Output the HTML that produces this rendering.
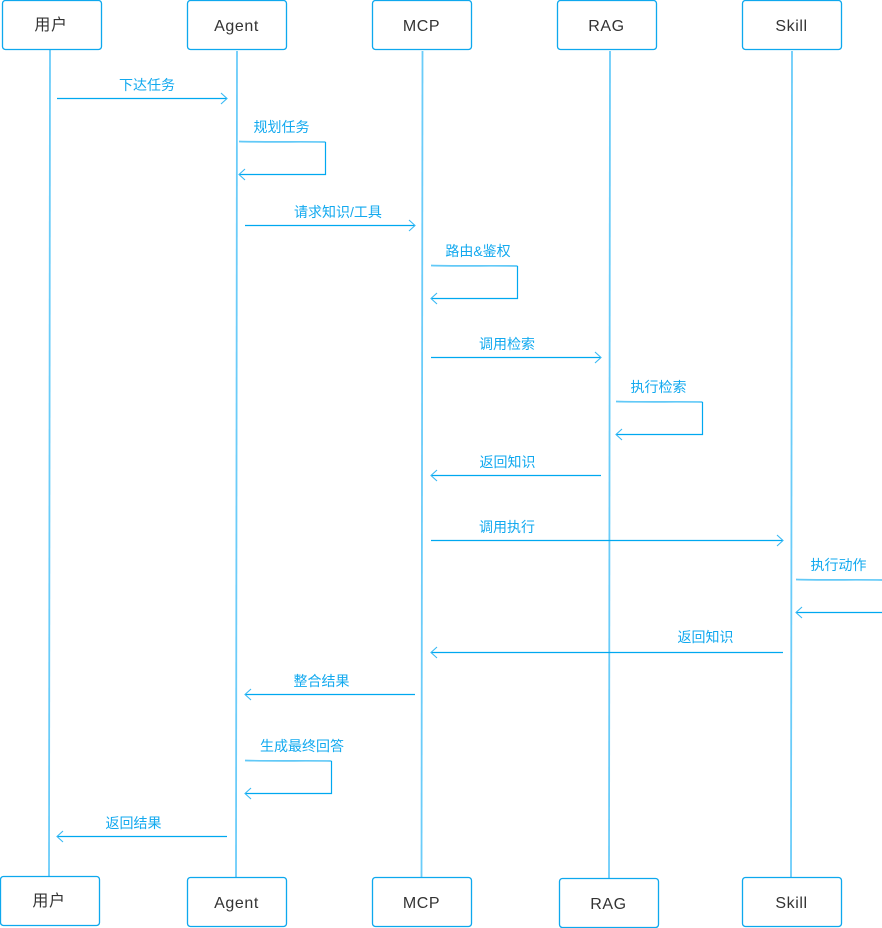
<!DOCTYPE html>
<html><head><meta charset="utf-8"><style>
html,body{margin:0;padding:0;background:#fff;width:882px;height:928px;overflow:hidden}
svg{display:block}
text{font-family:"Liberation Sans","Noto Sans CJK SC",sans-serif}
.n{font-size:16px;fill:#333;text-anchor:middle;letter-spacing:.6px}
.l{font-size:14px;fill:#12a9ef;text-anchor:middle}
.b{fill:#fff;stroke:#0ea8ee;stroke-width:1.300}
.life{stroke:#6accf9;stroke-width:1.800;fill:none}
.a{stroke:#00a8f0;stroke-width:1.200;fill:none}
.h{stroke:#38b9f4;stroke-width:1.100;fill:none}
.s{stroke:#62c9f7;stroke-width:1.700;fill:none}
</style></head><body>
<svg width="882" height="928" viewBox="0 0 882 928" xmlns="http://www.w3.org/2000/svg">
<path class="life" d="M50 50 L49 877"/>
<path class="life" d="M237 51 L236 878"/>
<path class="life" d="M422.500 51 L421.500 878"/>
<path class="life" d="M610 51 L609 879"/>
<path class="life" d="M792 51 L791 878"/>

<rect class="b" x="2.500" y="0.500" width="99" height="49" rx="3"/>
<rect class="b" x="187.500" y="0.500" width="99" height="49" rx="3"/>
<rect class="b" x="372.500" y="0.500" width="99" height="49" rx="3"/>
<rect class="b" x="557.500" y="0.500" width="99" height="49" rx="3"/>
<rect class="b" x="742.500" y="0.500" width="99" height="49" rx="3"/>
<rect class="b" x="0.500" y="876.500" width="99" height="49" rx="3"/>
<rect class="b" x="187.500" y="877.500" width="99" height="49" rx="3"/>
<rect class="b" x="372.500" y="877.500" width="99" height="49" rx="3"/>
<rect class="b" x="559.500" y="878.500" width="99" height="49" rx="3"/>
<rect class="b" x="742.500" y="877.500" width="99" height="49" rx="3"/>

<text class="n" x="51" y="30">用户</text>
<text class="n" x="236.500" y="31">Agent</text>
<text class="n" x="421.500" y="31">MCP</text>
<text class="n" x="606.500" y="31">RAG</text>
<text class="n" x="791.500" y="31">Skill</text>
<text class="n" x="49" y="906">用户</text>
<text class="n" x="236.500" y="908">Agent</text>
<text class="n" x="421.500" y="908">MCP</text>
<text class="n" x="608.500" y="909">RAG</text>
<text class="n" x="791.500" y="908">Skill</text>

<!-- 下达任务 -->
<path class="a" d="M57 98.500H227"/><path class="h" d="M221 93l6 5.500-6 5.500"/>
<text class="l" x="147" y="90">下达任务</text>
<!-- 规划任务 -->
<path class="s" d="M239 141.500C270 142.300 300 141.500 325.500 142"/>
<path class="a" d="M325.500 142V174.500H239"/><path class="h" d="M245 169l-6 5.500 6 5.500"/>
<text class="l" x="281.500" y="132">规划任务</text>
<!-- 请求知识/工具 -->
<path class="a" d="M245 225.500H415"/><path class="h" d="M409 220l6 5.500-6 5.500"/>
<text class="l" x="338" y="217">请求知识/工具</text>
<!-- 路由&鉴权 -->
<path class="s" d="M431 265.500C460 266.300 490 265.500 517.500 266"/>
<path class="a" d="M517.500 266V298.500H431"/><path class="h" d="M437 293l-6 5.500 6 5.500"/>
<text class="l" x="478" y="256">路由&amp;鉴权</text>
<!-- 调用检索 -->
<path class="a" d="M431 357.500H601"/><path class="h" d="M595 352l6 5.500-6 5.500"/>
<text class="l" x="507" y="349">调用检索</text>
<!-- 执行检索 -->
<path class="s" d="M616 401.500C645 402.300 675 401.500 702.500 402"/>
<path class="a" d="M702.500 402V434.500H616"/><path class="h" d="M622 429l-6 5.500 6 5.500"/>
<text class="l" x="658.500" y="392">执行检索</text>
<!-- 返回知识 -->
<path class="a" d="M601 475.500H431"/><path class="h" d="M437 470l-6 5.500 6 5.500"/>
<text class="l" x="507.500" y="467">返回知识</text>
<!-- 调用执行 -->
<path class="a" d="M431 540.500H783"/><path class="h" d="M777 535l6 5.500-6 5.500"/>
<text class="l" x="507" y="532">调用执行</text>
<!-- 执行动作 -->
<path class="s" d="M796 579.500C825 580.300 855 579.500 882 580"/>
<path class="a" d="M882 612.500H796"/><path class="h" d="M802 607l-6 5.500 6 5.500"/>
<text class="l" x="838.500" y="570">执行动作</text>
<!-- 返回知识 -->
<path class="a" d="M783 652.500H431"/><path class="h" d="M437 647l-6 5.500 6 5.500"/>
<text class="l" x="705.500" y="642">返回知识</text>
<!-- 整合结果 -->
<path class="a" d="M415 694.500H245"/><path class="h" d="M251 689l-6 5.500 6 5.500"/>
<text class="l" x="321.500" y="686">整合结果</text>
<!-- 生成最终回答 -->
<path class="s" d="M245 760.500C275 761.300 305 760.500 331.500 761"/>
<path class="a" d="M331.500 761V793.500H245"/><path class="h" d="M251 788l-6 5.500 6 5.500"/>
<text class="l" x="302" y="751">生成最终回答</text>
<!-- 返回结果 -->
<path class="a" d="M227 836.500H57"/><path class="h" d="M63 831l-6 5.500 6 5.500"/>
<text class="l" x="133.500" y="828">返回结果</text>
</svg>
</body></html>
